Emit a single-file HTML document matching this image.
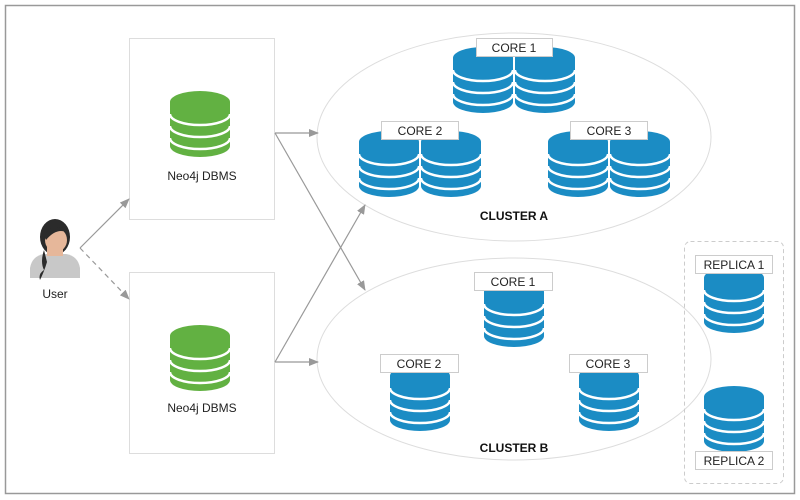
<!DOCTYPE html>
<html><head><meta charset="utf-8"><style>
html,body{margin:0;padding:0;background:#fff;}
svg{display:block;font-family:"Liberation Sans",sans-serif;}
</style></head><body>
<svg width="800" height="500" viewBox="0 0 800 500" xmlns="http://www.w3.org/2000/svg">
<defs>
<g id="db">
  <path d="M0 11 A30 11 0 0 1 60 11 L60 55 A30 11 0 0 1 0 55 Z"/>
  <g fill="none" stroke="#fff" stroke-width="2.5">
    <path d="M0 23 A30 11 0 0 0 60 23"/>
    <path d="M0 35 A30 11 0 0 0 60 35"/>
    <path d="M0 47 A30 11 0 0 0 60 47"/>
  </g>
</g>
<marker id="ar" markerWidth="10" markerHeight="8" refX="9" refY="4" orient="auto" markerUnits="userSpaceOnUse">
  <path d="M0 0 L10 4 L0 8 Z" fill="#999"/>
</marker>
</defs>
<rect x="5.5" y="5.5" width="789" height="488" fill="#fff" stroke="#999" stroke-width="1.5"/>

<rect x="129.5" y="38.5" width="145" height="181" fill="#fff" stroke="#ddd"/>
<rect x="129.5" y="272.5" width="145" height="181" fill="#fff" stroke="#ddd"/>
<use href="#db" x="170" y="91" fill="#62b142"/>
<use href="#db" x="170" y="325" fill="#62b142"/>
<text x="202" y="180" font-size="12" text-anchor="middle" fill="#222">Neo4j DBMS</text>
<text x="202" y="412" font-size="12" text-anchor="middle" fill="#222">Neo4j DBMS</text>

<ellipse cx="514" cy="137" rx="197" ry="104" fill="none" stroke="#ddd"/>
<ellipse cx="514" cy="359" rx="197" ry="101" fill="none" stroke="#ddd"/>

<rect x="684.5" y="241.5" width="99" height="242" rx="6" fill="none" stroke="#ccc" stroke-dasharray="4,3"/>

<g stroke="#999" stroke-width="1.2" fill="none">
  <path d="M80 248 L129 199" marker-end="url(#ar)"/>
  <path d="M80 248 L129 299" stroke-dasharray="5,4" marker-end="url(#ar)"/>
  <path d="M275 133 L318 133" marker-end="url(#ar)"/>
  <path d="M275 133 L365 290" marker-end="url(#ar)"/>
  <path d="M275 362 L318 362" marker-end="url(#ar)"/>
  <path d="M275 362 L365 205" marker-end="url(#ar)"/>
</g>

<g>
  <path d="M30 278 L30 268 Q32 256 44 254 L66 254 Q78 256 80 268 L80 278 Z" fill="#c8c8c8"/>
  <ellipse cx="55" cy="237" rx="15" ry="18" fill="#2b2b2b"/>
  <rect x="47" y="244" width="16" height="12" fill="#e6b79a"/>
  <ellipse cx="56" cy="240" rx="11" ry="12" fill="#e6b79a"/>
  <path d="M44 236 Q50 224 66 228 L66 232 Q56 228 46 240 Z" fill="#2b2b2b"/>
  <path d="M44 250 Q40 262 44 270 Q38 274 40 280 Q44 272 47 262 Z" fill="#2b2b2b"/>
</g>
<text x="55" y="298" font-size="12" text-anchor="middle" fill="#222">User</text>

<g fill="#1b8cc4">
  <use href="#db" x="453" y="47"/><use href="#db" x="515" y="47"/>
  <use href="#db" x="359" y="131"/><use href="#db" x="421" y="131"/>
  <use href="#db" x="548" y="131"/><use href="#db" x="610" y="131"/>
  <use href="#db" x="484" y="281"/>
  <use href="#db" x="390" y="365"/>
  <use href="#db" x="579" y="365"/>
  <use href="#db" x="704" y="267"/>
  <use href="#db" x="704" y="386"/>
</g>
<g fill="#fff" stroke="#ccc">
  <rect x="476.5" y="38.5" width="76" height="18"/>
  <rect x="381.5" y="121.5" width="77" height="18"/>
  <rect x="570.5" y="121.5" width="77" height="18"/>
  <rect x="474.5" y="272.5" width="78" height="18"/>
  <rect x="380.5" y="354.5" width="78" height="18"/>
  <rect x="569.5" y="354.5" width="78" height="18"/>
  <rect x="695.5" y="255.5" width="77" height="18"/>
  <rect x="695.5" y="451.5" width="77" height="18"/>
</g>
<g font-size="12" text-anchor="middle" fill="#222">
  <text x="514" y="52">CORE 1</text>
  <text x="420" y="135">CORE 2</text>
  <text x="609" y="135">CORE 3</text>
  <text x="513" y="286">CORE 1</text>
  <text x="419" y="368">CORE 2</text>
  <text x="608" y="368">CORE 3</text>
  <text x="734" y="269">REPLICA 1</text>
  <text x="734" y="465">REPLICA 2</text>
</g>
<text x="514" y="220" font-size="12" font-weight="bold" text-anchor="middle" fill="#111">CLUSTER A</text>
<text x="514" y="452" font-size="12" font-weight="bold" text-anchor="middle" fill="#111">CLUSTER B</text>
</svg>
</body></html>
